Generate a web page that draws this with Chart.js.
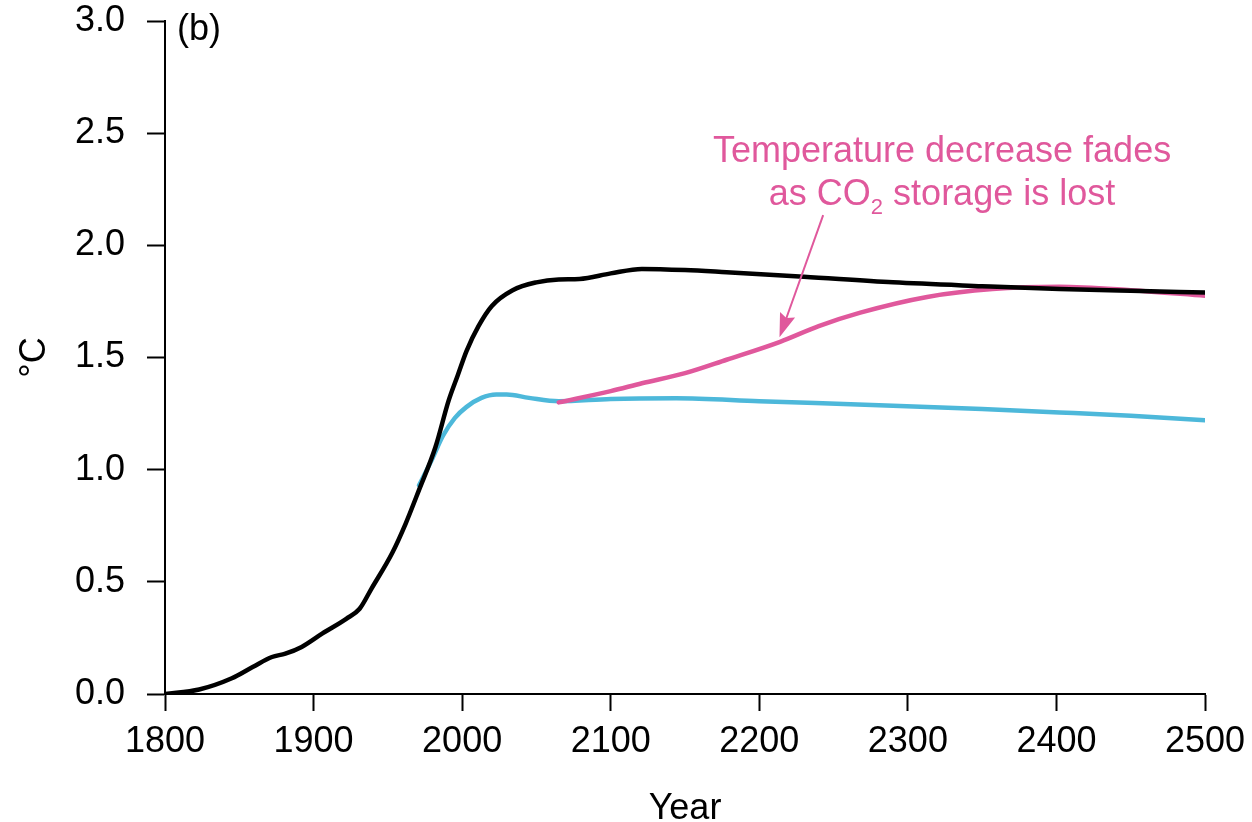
<!DOCTYPE html>
<html>
<head>
<meta charset="utf-8">
<script src="https://cdn.jsdelivr.net/npm/chart.js@4"></script>
<style>
  html, body { margin: 0; padding: 0; background: #fff; }
  #wrap { width: 1252px; height: 822px; }
</style>
</head>
<body>
<div id="wrap"><canvas id="chart" width="1252" height="822"></canvas></div>
<script>
// values
const blackYears = [1800, 1823, 1845, 1859, 1872, 1881, 1892, 1906, 1922, 1931, 1939, 1953, 1962, 1971, 1982, 1991, 1997, 2003, 2011, 2020, 2034, 2050, 2065, 2079, 2100, 2121, 2150, 2178, 2230, 2290, 2350, 2402, 2450, 2500];
const blackTemp = [0, 0.02, 0.07, 0.12, 0.165, 0.18, 0.21, 0.27, 0.335, 0.38, 0.47, 0.63, 0.76, 0.91, 1.10, 1.31, 1.42, 1.53, 1.64, 1.73, 1.80, 1.835, 1.848, 1.85, 1.875, 1.895, 1.89, 1.88, 1.86, 1.835, 1.818, 1.805, 1.797, 1.79];

const cyanYears = [1971, 1980, 1987, 1995, 2003, 2013, 2023, 2030, 2045, 2065, 2100, 2144, 2200, 2290, 2350, 2402, 2450, 2500];
const cyanTemp = [0.93, 1.05, 1.15, 1.23, 1.28, 1.32, 1.335, 1.335, 1.32, 1.305, 1.315, 1.318, 1.305, 1.285, 1.27, 1.255, 1.24, 1.22];

const pinkYears = [2065, 2100, 2121, 2150, 2178, 2214, 2240, 2268, 2313, 2357, 2402, 2450, 2500];
const pinkTemp = [1.30, 1.35, 1.385, 1.43, 1.49, 1.57, 1.64, 1.70, 1.77, 1.805, 1.815, 1.80, 1.775];

const xTicks = [1800, 1900, 2000, 2100, 2200, 2300, 2400, 2500];
const yTicks = [0, 0.5, 1.0, 1.5, 2.0, 2.5, 3.0];

const PINK = '#e0589c';
const CYAN = '#4db8da';
const FONT = '"Liberation Sans", Arial, sans-serif';
const FS = 36;

const pts = (xs, ys) => xs.map((x, i) => ({ x: x, y: ys[i] }));

// annotation text + arrow, placed in data units
const annot = {
  textYear: 2323, line1: 2.37, line2: 2.18,
  arrowFrom: [2243, 2.135], arrowTo: [2213.6, 1.59]
};

const extras = {
  id: 'extras',
  afterDatasetsDraw(chart) {
    const { ctx, scales: { x, y } } = chart;
    const big = FS + 'px ' + FONT, small = '22px ' + FONT;
    ctx.save();
    // panel label
    ctx.fillStyle = '#000';
    ctx.font = big;
    ctx.textBaseline = 'alphabetic';
    ctx.textAlign = 'left';
    ctx.fillText('(b)', x.getPixelForValue(1800) + 12, y.getPixelForValue(3.0) + 19);

    // annotation
    ctx.fillStyle = PINK;
    ctx.textAlign = 'center';
    const cx = x.getPixelForValue(annot.textYear);
    ctx.fillText('Temperature decrease fades', cx, y.getPixelForValue(annot.line1));
    const a = 'as CO', b = ' storage is lost';
    const wa = ctx.measureText(a).width, wb = ctx.measureText(b).width;
    ctx.font = small;
    const ws = ctx.measureText('2').width;
    const sx = cx - (wa + ws + wb) / 2;
    const by = y.getPixelForValue(annot.line2);
    ctx.textAlign = 'left';
    ctx.font = big;
    ctx.fillText(a, sx, by);
    ctx.font = small;
    ctx.fillText('2', sx + wa, by + 9);
    ctx.font = big;
    ctx.fillText(b, sx + wa + ws, by);

    // arrow
    const x0 = x.getPixelForValue(annot.arrowFrom[0]), y0 = y.getPixelForValue(annot.arrowFrom[1]);
    const x1 = x.getPixelForValue(annot.arrowTo[0]), y1 = y.getPixelForValue(annot.arrowTo[1]);
    const ang = Math.atan2(y1 - y0, x1 - x0);
    const hl = 24, hw = 8;
    const bx = x1 - hl * Math.cos(ang), byy = y1 - hl * Math.sin(ang);
    ctx.strokeStyle = PINK;
    ctx.lineWidth = 2;
    ctx.beginPath();
    ctx.moveTo(x0, y0);
    ctx.lineTo(x1 - hl * 0.8 * Math.cos(ang), y1 - hl * 0.8 * Math.sin(ang));
    ctx.stroke();
    ctx.beginPath();
    ctx.moveTo(x1, y1);
    ctx.lineTo(bx + hw * Math.sin(ang), byy - hw * Math.cos(ang));
    ctx.lineTo(x1 - hl * 0.85 * Math.cos(ang), y1 - hl * 0.85 * Math.sin(ang));
    ctx.lineTo(bx - hw * Math.sin(ang), byy + hw * Math.cos(ang));
    ctx.closePath();
    ctx.fill();
    ctx.restore();
  }
};

new Chart(document.getElementById('chart').getContext('2d'), {
  type: 'line',
  data: {
    datasets: [
      { label: 'black', data: pts(blackYears, blackTemp), borderColor: '#000', borderWidth: 4.5 },
      { label: 'pink', data: pts(pinkYears, pinkTemp), borderColor: PINK, borderWidth: 4.5 },
      { label: 'cyan', data: pts(cyanYears, cyanTemp), borderColor: CYAN, borderWidth: 4.5 }
    ]
  },
  options: {
    responsive: false,
    animation: false,
    elements: {
      point: { radius: 0 },
      line: { cubicInterpolationMode: 'monotone', borderCapStyle: 'round', borderJoinStyle: 'round' }
    },
    layout: { padding: { top: 21, right: 47, left: 0, bottom: 0 } },
    plugins: { legend: { display: false }, tooltip: { enabled: false } },
    scales: {
      x: {
        type: 'linear',
        min: 1800, max: 2500,
        afterFit: s => { s.height = 128; s.paddingLeft = 0; s.paddingRight = 0; },
        afterBuildTicks: s => { s.ticks = xTicks.map(v => ({ value: v })); },
        ticks: { color: '#000', font: { size: FS, family: FONT }, padding: 9, maxRotation: 0, callback: v => String(v) },
        grid: { drawOnChartArea: false, drawTicks: true, tickLength: 17, color: '#000', tickWidth: 2 },
        border: { color: '#000', width: 2 },
        title: { display: true, text: 'Year', color: '#000', font: { size: FS, family: FONT, lineHeight: 1 }, padding: { top: 0, bottom: -5 } }
      },
      y: {
        min: 0, max: 3,
        afterFit: s => { s.width = 165; s.paddingTop = 0; s.paddingBottom = 0; },
        afterBuildTicks: s => { s.ticks = yTicks.map(v => ({ value: v })); },
        ticks: { color: '#000', font: { size: FS, family: FONT }, padding: 22, callback: v => v.toFixed(1) },
        grid: { drawOnChartArea: false, drawTicks: true, tickLength: 18, color: '#000', tickWidth: 2 },
        border: { color: '#000', width: 2 },
        title: { display: true, text: '°C', color: '#000', font: { size: FS, family: FONT, lineHeight: 1 }, padding: { top: 17, bottom: 0 } }
      }
    }
  },
  plugins: [extras]
});
</script>
</body>
</html>
